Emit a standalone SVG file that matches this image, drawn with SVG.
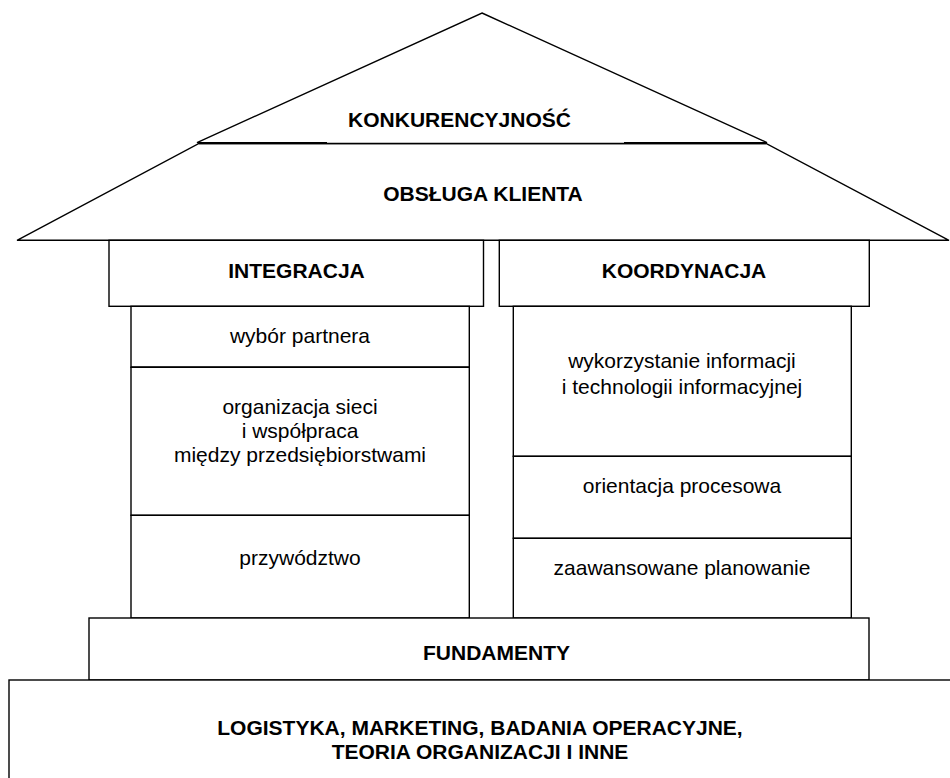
<svg xmlns="http://www.w3.org/2000/svg" width="950" height="778" viewBox="0 0 950 778">
<style>
.s{fill:#fff;stroke:#000;stroke-width:1.4}
.ln{stroke:#000;stroke-width:1.4;fill:none}
.b{font-family:"Liberation Sans",Arial,sans-serif;font-size:21px;font-weight:bold;fill:#000;text-anchor:middle}
.t{font-family:"Liberation Sans",Arial,sans-serif;font-size:21px;fill:#000;text-anchor:middle}
</style>
<rect width="950" height="778" fill="#fff"/>
<g id="roof">
<polygon class="s" points="199,143.5 766,143.5 949,240.3 17,240.3"/>
<polygon class="s" points="482,13 767,142.6 197,142.6"/>
<rect x="327" y="130" width="297" height="13" fill="#fff"/>
<line class="ln" x1="199" y1="143.5" x2="766" y2="143.5"/>
<text class="b" x="459.5" y="127">KONKURENCYJNOŚĆ</text>
<text class="b" x="483" y="201">OBSŁUGA KLIENTA</text>
</g>
<g id="integracja">
<rect class="s" x="109" y="240.3" width="374.5" height="66"/>
<text class="b" x="296.5" y="278">INTEGRACJA</text>
</g>
<g id="koordynacja">
<rect class="s" x="499.3" y="240.3" width="370" height="66"/>
<text class="b" x="684" y="278">KOORDYNACJA</text>
</g>
<g id="wybor-partnera">
<rect class="s" x="131" y="306.3" width="338.3" height="61"/>
<text class="t" x="300" y="343">wybór partnera</text>
</g>
<g id="organizacja-sieci">
<rect class="s" x="131" y="367.3" width="338.3" height="148"/>
<line class="ln" x1="131" y1="367.3" x2="469.3" y2="367.3" stroke-width="2"/>
<text class="t" x="300" y="414">organizacja sieci</text>
<text class="t" x="300" y="438">i współpraca</text>
<text class="t" x="300" y="462">między przedsiębiorstwami</text>
</g>
<g id="przywodztwo">
<rect class="s" x="131" y="515.3" width="338.3" height="102.7"/>
<text class="t" x="300" y="565">przywództwo</text>
</g>
<g id="wykorzystanie-informacji">
<rect class="s" x="513.3" y="306.3" width="338" height="150"/>
<text class="t" x="682" y="368">wykorzystanie informacji</text>
<text class="t" x="682" y="394">i technologii informacyjnej</text>
</g>
<g id="orientacja-procesowa">
<rect class="s" x="513.3" y="456.3" width="338" height="82"/>
<text class="t" x="682" y="493">orientacja procesowa</text>
</g>
<g id="zaawansowane-planowanie">
<rect class="s" x="513.3" y="538.3" width="338" height="79.7"/>
<text class="t" x="682" y="575">zaawansowane planowanie</text>
</g>
<g id="fundamenty">
<rect class="s" x="89" y="618" width="780" height="62"/>
<text class="b" x="496.5" y="660">FUNDAMENTY</text>
</g>
<g id="podstawy">
<rect class="s" x="9" y="680" width="960" height="120"/>
<text class="b" x="480" y="735">LOGISTYKA, MARKETING, BADANIA OPERACYJNE,</text>
<text class="b" x="480" y="759">TEORIA ORGANIZACJI I INNE</text>
</g>
<g id="connectors"></g>
</svg>
